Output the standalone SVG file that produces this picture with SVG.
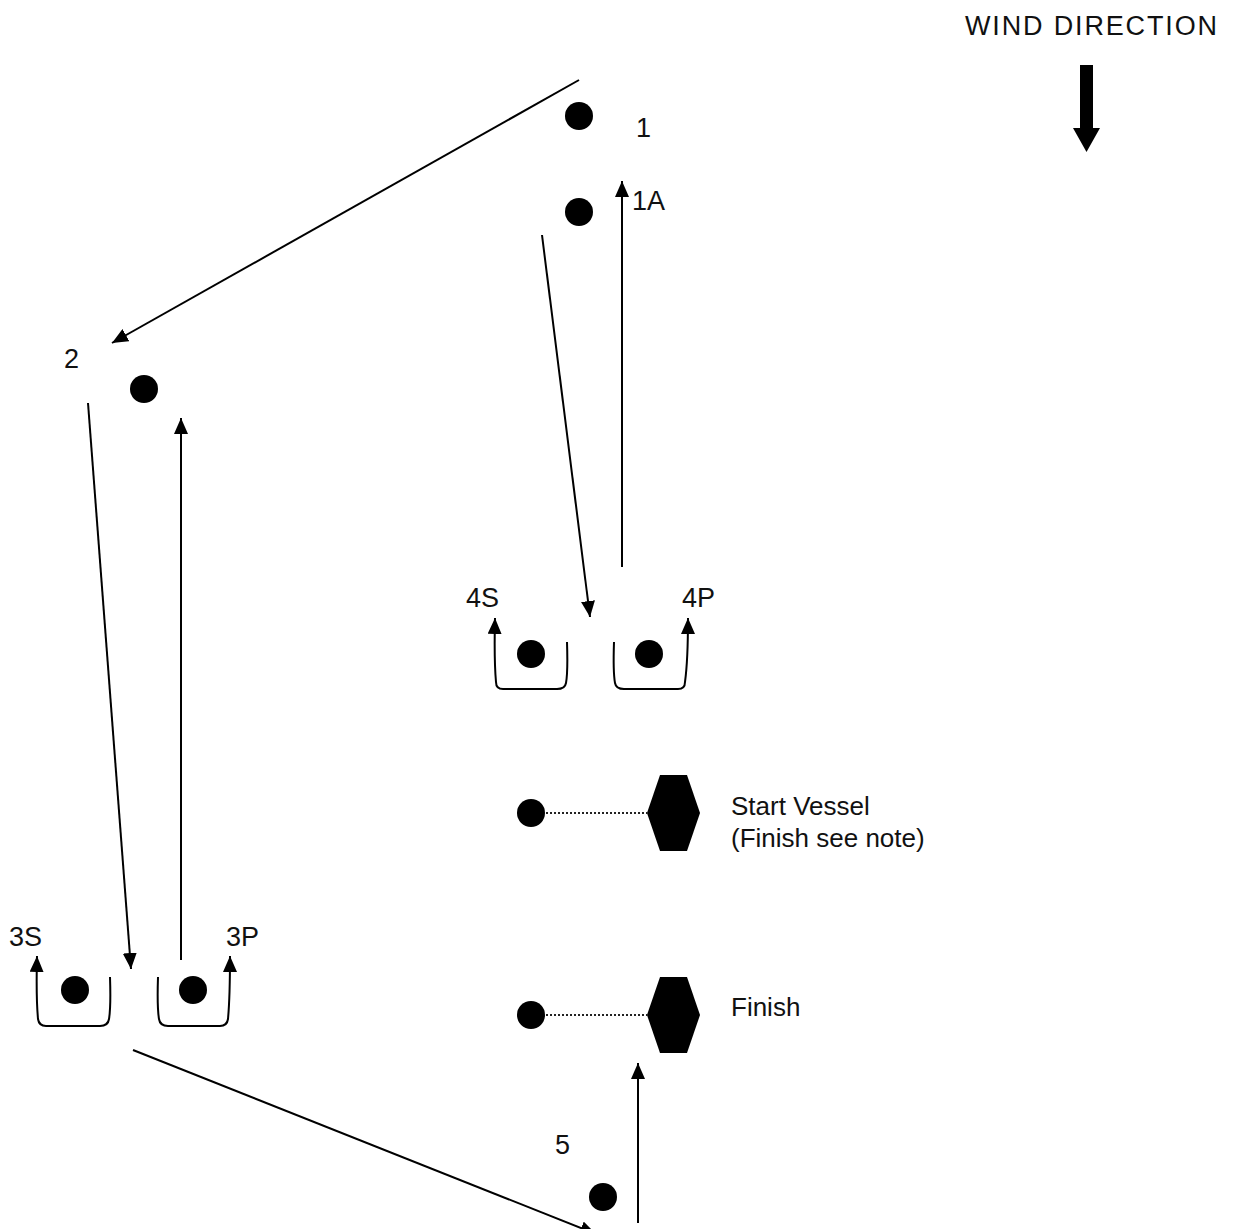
<svg xmlns="http://www.w3.org/2000/svg" width="1235" height="1229" viewBox="0 0 1235 1229">
<style>
  .lbl { font-family: "Liberation Sans", Arial, sans-serif; font-size: 27px; fill: #111; }
  .txt { font-family: "Liberation Sans", Arial, sans-serif; font-size: 26px; fill: #111; }
  .buoy { fill: #000; }
  .conn { stroke: #000; stroke-width: 2; fill: none; marker-end: url(#ah); }
  .dot { stroke: #222; stroke-width: 2; stroke-dasharray: 2 2; fill: none; }
  .vessel { fill: #000; }
</style>
<defs>
  <marker id="ah" viewBox="0 0 16 14" refX="16" refY="7" markerWidth="16" markerHeight="14" markerUnits="userSpaceOnUse" orient="auto">
    <path d="M0,0 L16,7 L0,14 z" fill="#000"/>
  </marker>
</defs>
<rect width="1235" height="1229" fill="#fff"/>

<g id="wind">
  <text class="lbl" x="965" y="35" font-size="30" textLength="252" lengthAdjust="spacing">WIND DIRECTION</text>
  <polygon points="1080,65 1093,65 1093,128 1100,128 1086.5,152 1073,128 1080,128" fill="#000"/>
</g>

<g id="mark-1">
  <circle class="buoy" cx="579" cy="116" r="14"/>
  <text class="lbl" x="636" y="137">1</text>
</g>
<g id="mark-1A">
  <circle class="buoy" cx="579" cy="212" r="14"/>
  <text class="lbl" x="632" y="210">1A</text>
</g>
<g id="mark-2">
  <circle class="buoy" cx="144" cy="389" r="14"/>
  <text class="lbl" x="64" y="368">2</text>
</g>
<g id="gate-4S">
  <circle class="buoy" cx="531" cy="654" r="14"/>
  <text class="lbl" x="466" y="607">4S</text>
  <path class="conn" d="M567,642 Q568,672 566,683 Q565,689 557,689 L503,689 Q496,689 496,682 Q494,660 495,618"/>
</g>
<g id="gate-4P">
  <circle class="buoy" cx="649" cy="654" r="14"/>
  <text class="lbl" x="682" y="607">4P</text>
  <path class="conn" d="M614,642 Q613,672 615,683 Q616,689 624,689 L678,689 Q685,689 685,682 Q688,660 688,618"/>
</g>
<g id="gate-3S">
  <circle class="buoy" cx="75" cy="990" r="14"/>
  <text class="lbl" x="9" y="946">3S</text>
  <path class="conn" d="M110,977 Q111,1007 109,1019 Q108,1026 100,1026 L46,1026 Q39,1026 38,1019 Q36,997 37,956"/>
</g>
<g id="gate-3P">
  <circle class="buoy" cx="193" cy="990" r="14"/>
  <text class="lbl" x="226" y="946">3P</text>
  <path class="conn" d="M158,977 Q157,1007 159,1019 Q160,1026 168,1026 L220,1026 Q227,1026 228,1019 Q230,997 230,956"/>
</g>
<g id="start-vessel">
  <circle class="buoy" cx="531" cy="813" r="14"/>
  <line class="dot" x1="546" y1="813" x2="647" y2="813"/>
  <polygon class="vessel" points="647,813 660,775 687,775 700,813 687,851 660,851"/>
  <text class="txt" x="731" y="815">Start Vessel</text>
  <text class="txt" x="731" y="847">(Finish see note)</text>
</g>
<g id="finish">
  <circle class="buoy" cx="531" cy="1015" r="14"/>
  <line class="dot" x1="546" y1="1015" x2="647" y2="1015"/>
  <polygon class="vessel" points="647,1015 660,977 687,977 700,1015 687,1053 660,1053"/>
  <text class="txt" x="731" y="1016">Finish</text>
</g>
<g id="mark-5">
  <circle class="buoy" cx="603" cy="1197" r="14"/>
  <text class="lbl" x="555" y="1154">5</text>
</g>

<g id="connectors">
  <line class="conn" x1="579" y1="80" x2="112" y2="343"/>
  <line class="conn" x1="542" y1="235" x2="590" y2="617"/>
  <line class="conn" x1="622" y1="567" x2="622" y2="181"/>
  <line class="conn" x1="88" y1="403" x2="131" y2="969"/>
  <line class="conn" x1="181" y1="960" x2="181" y2="418"/>
  <line class="conn" x1="133" y1="1050" x2="596" y2="1234"/>
  <line class="conn" x1="638" y1="1223" x2="638" y2="1063"/>
</g>
</svg>
